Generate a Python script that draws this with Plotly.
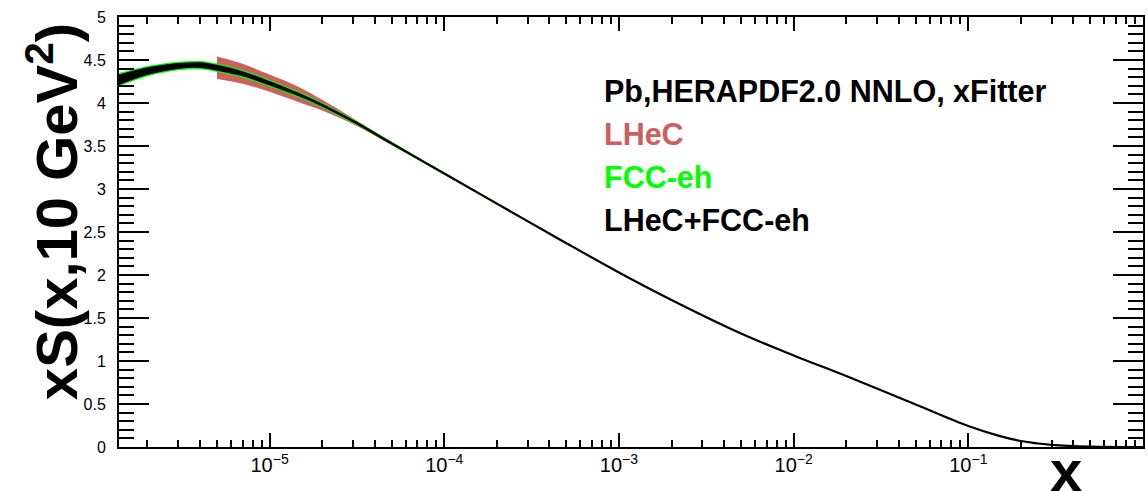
import plotly.graph_objects as go

# Sea-quark momentum distribution xS(x, Q^2 = 10 GeV^2) for Pb
x_vals = [1.37e-6, 2e-6, 3e-6, 4e-6, 5e-6, 7e-6, 1e-5, 1.5e-5, 2e-5, 3e-5,
          5e-5, 1e-4, 2e-4, 5e-4, 1e-3, 2e-3, 5e-3, 1e-2, 2e-2, 5e-2,
          0.1, 0.15, 0.2, 0.3, 0.5, 1.0]
xs_central = [4.27, 4.37, 4.43, 4.44, 4.41, 4.34, 4.23, 4.09, 3.975, 3.79,
              3.53, 3.18, 2.83, 2.37, 2.03, 1.71, 1.32, 1.065, 0.825, 0.495,
              0.245, 0.13, 0.07, 0.025, 0.004, 0.0]

# half-widths of the uncertainty bands
err_comb = [0.062, 0.045, 0.035, 0.033, 0.034, 0.030, 0.026, 0.020, 0.016, 0.012,
            0.009, 0.006, 0.005, 0.004, 0.003, 0.003, 0.002, 0.002, 0.002, 0.002,
            0.002, 0.001, 0.001, 0.001, 0.0, 0.0]
err_fcc = [0.078, 0.060, 0.050, 0.048, 0.049, 0.045, 0.040, 0.034, 0.029, 0.024,
           0.019, 0.014, 0.011, 0.009, 0.008, 0.007, 0.006, 0.005, 0.004, 0.004,
           0.003, 0.002, 0.002, 0.001, 0.0, 0.0]
# LHeC band starts at x = 5e-6
lhec_start = 4
err_lhec = [0.130, 0.115, 0.100, 0.088, 0.062, 0.034,
            0.020, 0.011, 0.008, 0.007, 0.006, 0.005, 0.004, 0.004, 0.003,
            0.003, 0.002, 0.002, 0.001, 0.0, 0.0, 0.0]

legend_lines = ["Pb,HERAPDF2.0 NNLO, xFitter", "LHeC", "FCC-eh", "LHeC+FCC-eh"]
legend_colors = ["black", "rgb(205,95,95)", "rgb(0,255,0)", "black"]

fig = go.Figure()


def add_band(xv, yc, err, color):
    lo = [c - e for c, e in zip(yc, err)]
    hi = [c + e for c, e in zip(yc, err)]
    fig.add_trace(go.Scatter(x=xv, y=lo, mode="lines", line=dict(width=0, color=color, shape="spline"),
                             showlegend=False, hoverinfo="skip"))
    fig.add_trace(go.Scatter(x=xv, y=hi, mode="lines", line=dict(width=0, color=color, shape="spline"),
                             fill="tonexty", fillcolor=color, showlegend=False, hoverinfo="skip"))


add_band(x_vals[lhec_start:], xs_central[lhec_start:], err_lhec, "rgb(205,95,95)")
add_band(x_vals, xs_central, err_fcc, "rgb(0,255,0)")
add_band(x_vals, xs_central, err_comb, "black")

fig.add_trace(go.Scatter(x=x_vals, y=xs_central, mode="lines",
                         line=dict(color="black", width=2.2, shape="spline"),
                         showlegend=False))

for i, (txt, col) in enumerate(zip(legend_lines, legend_colors)):
    fig.add_annotation(text="<b>%s</b>" % txt, xref="paper", yref="paper",
                       x=(603 - 119) / 1026, y=(447 - (91 + i * 43)) / 430,
                       xanchor="left", yanchor="middle", showarrow=False,
                       font=dict(size=30.5, color=col, family="Liberation Sans"))

# axis titles
fig.add_annotation(text="<b>xS(x,10 GeV<sup>2</sup>)</b>", xref="paper", yref="paper",
                   x=(52 - 119) / 1026, y=(447 - 212) / 430, textangle=-90,
                   xanchor="center", yanchor="middle", showarrow=False,
                   font=dict(size=58, color="black", family="Liberation Sans"))
fig.add_annotation(text="<b>x</b>", xref="paper", yref="paper",
                   x=(1068 - 119) / 1026, y=(447 - 470) / 430,
                   xanchor="center", yanchor="middle", showarrow=False,
                   font=dict(size=58, color="black", family="Liberation Sans"))

fig.update_xaxes(type="log", range=[-5.862, 0], showgrid=False, zeroline=False,
                 showline=True, linecolor="black", linewidth=2, mirror="ticks",
                 ticks="inside", ticklen=14, tickwidth=1.5, tickcolor="black",
                 dtick=1, exponentformat="power", showexponent="all",
                 tickfont=dict(size=16, color="black", family="Liberation Sans"),
                 minor=dict(ticks="inside", ticklen=7, tickwidth=1.5, tickcolor="black",
                            dtick="D1", showgrid=False))
fig.update_yaxes(range=[0, 5], showgrid=False, zeroline=False,
                 showline=True, linecolor="black", linewidth=2, mirror="ticks",
                 ticks="inside", ticklen=30, tickwidth=1.5, tickcolor="black",
                 dtick=0.5, ticklabelstandoff=8,
                 tickfont=dict(size=16, color="black", family="Liberation Sans"),
                 minor=dict(ticks="inside", ticklen=15, tickwidth=1.5, tickcolor="black",
                            dtick=0.1, showgrid=False))

fig.update_layout(width=1148, height=491, margin=dict(l=119, r=3, t=17, b=44),
                  plot_bgcolor="white", paper_bgcolor="white", showlegend=False)

fig.write_html("out.html")
